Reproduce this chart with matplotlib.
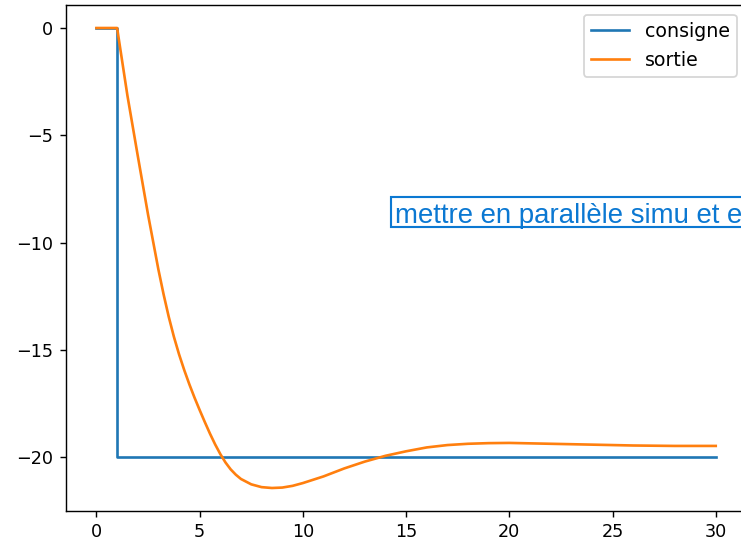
import matplotlib
matplotlib.use("Agg")
import matplotlib.pyplot as plt
from matplotlib.patches import Rectangle

# setpoint step
t_consigne = [0, 1, 1, 30]
consigne = [0, 0, -20, -20]

# measured response
t_sortie = [0, 1, 1.5, 2, 2.5, 3, 3.25, 3.5, 3.75, 4, 4.25, 4.5, 4.75, 5, 5.25, 5.5, 5.75,
            6, 6.25, 6.5, 6.75, 7, 7.5, 8, 8.5, 9, 9.5, 10,
            11, 12, 13, 14, 15, 16, 17, 18, 19, 20, 21, 22, 23, 24, 25, 26, 27, 28, 29, 30]
sortie = [0, 0, -3.15, -5.95, -8.7, -11.25, -12.4, -13.45, -14.38, -15.2, -15.93, -16.6,
          -17.22, -17.8, -18.36, -18.9, -19.4,
          -19.85, -20.24, -20.56, -20.81, -21.01, -21.26, -21.39, -21.43, -21.41, -21.33, -21.2,
          -20.89, -20.52, -20.2, -19.93, -19.72, -19.54, -19.43, -19.37, -19.34, -19.33,
          -19.35, -19.37, -19.39, -19.41, -19.43, -19.45, -19.46, -19.47, -19.47, -19.47]

note = "mettre en parallèle simu et exp"
note_color = "#0b78d2"

W, H, DPI = 741, 544, 127
fig = plt.figure(figsize=(W / DPI, H / DPI), dpi=DPI)
ax = fig.add_axes([65.5 / W, 33 / H, 681.2 / W, 506 / H])

ax.plot(t_consigne, consigne, label="consigne")
ax.plot(t_sortie, sortie, label="sortie")
ax.legend(loc="upper right", fontsize=10.8)

# comment box over the plot
fig.patches.append(Rectangle((390.7 / W, (H - 227) / H), 0.6, 30 / H,
                             transform=fig.transFigure, facecolor="white",
                             edgecolor=note_color, linewidth=1.2, zorder=5))
fig.text(395 / W, (H - 222.7) / H, note, color=note_color, fontsize=15.7,
         family="Liberation Sans", va="baseline", ha="left", zorder=6)

fig.savefig("out.png", dpi=DPI)
